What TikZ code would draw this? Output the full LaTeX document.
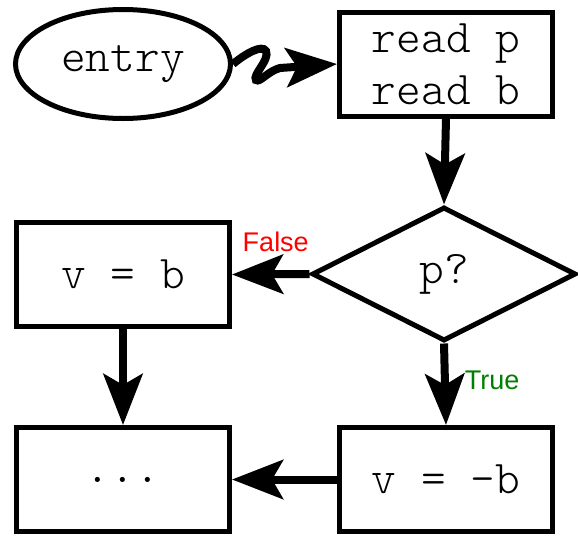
\documentclass[tikz,border=0pt]{standalone}
\usepackage{fontspec}
\newfontfamily\labfont{Liberation Sans}
\setmonofont{Latin Modern Mono Light}
\usetikzlibrary{shapes.geometric,arrows.meta}
\definecolor{labred}{RGB}{255,0,0}
\definecolor{labgreen}{RGB}{0,128,0}
\begin{document}
\begin{tikzpicture}[x=1pt,y=-1pt,
  every node/.style={font=\ttfamily\fontsize{47}{52}\selectfont},
  boxnode/.style={draw,rectangle,line width=5pt,minimum width=213pt,minimum height=104pt,inner sep=0pt,align=center},
  entrynode/.style={draw,ellipse,line width=5pt,minimum width=215pt,minimum height=109pt,inner sep=0pt},
  decnode/.style={draw,diamond,line width=5pt,minimum width=264pt,minimum height=134pt,inner sep=0pt},
  arr/.style={line width=8pt,-{Stealth[length=51pt,width=39pt,inset=11pt]}},
  lab/.style={font=\labfont\fontsize{27}{30}\selectfont,inner sep=0pt}
]
\useasboundingbox (0,0) rectangle (578,536);
\node[entrynode] (entry) at (123,64) {entry};
\node[boxnode] (read) at (446,64) {read p\\read b};
\node[decnode] (dec) at (444,274) {p?};
\node[boxnode] (vb) at (123,274.5) {v = b};
\node[boxnode] (vnb) at (446,479.5) {v = -b};
\node[boxnode] (dots) at (123,479.5) {...};
\draw[arr] (entry.east) .. controls (245,54) and (262,44) .. (266,51)
  .. controls (270,60) and (252,75) .. (256,80)
  .. controls (260,83) and (268,71) .. (280,68) -- (read.west);
\draw[arr] (read.south) -- (dec.north);
\draw[arr] (dec.west) -- (vb.east) node[lab,text=labred,pos=0.5,above=18pt,xshift=5pt] (f) {False};
\draw[arr] (dec.south) -- (vnb.north) node[lab,text=labgreen,pos=0.45,right=16pt] (t) {True};
\draw[arr] (vb.south) -- (dots.north);
\draw[arr] (vnb.west) -- (dots.east);
\end{tikzpicture}
\end{document}
